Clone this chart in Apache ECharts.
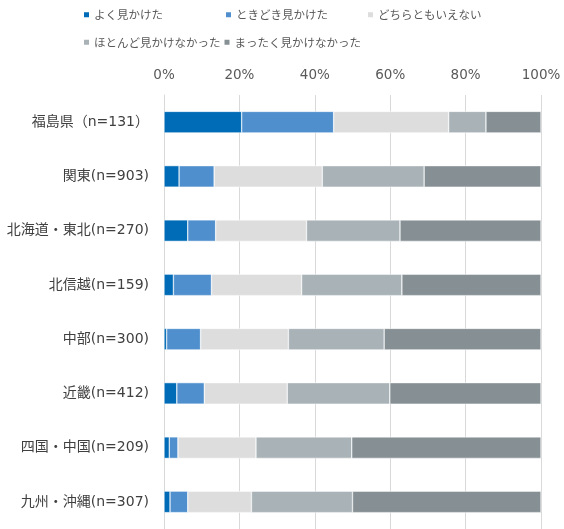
<!DOCTYPE html>
<html><head><meta charset="utf-8">
<script src="https://cdn.jsdelivr.net/npm/echarts@6/dist/echarts.min.js"></script>
<style>html,body{margin:0;padding:0;background:#fff}#c{width:564px;height:529px}</style>
</head><body><div id="c"></div>
<script>
var categories = ['福島県（n=131）','関東(n=903)','北海道・東北(n=270)','北信越(n=159)','中部(n=300)','近畿(n=412)','四国・中国(n=209)','九州・沖縄(n=307)'];
var seriesNames = ['よく見かけた','ときどき見かけた','どちらともいえない','ほとんど見かけなかった','まったく見かけなかった'];
var often     = [20.6, 4.0, 6.3, 2.5, 0.7, 3.4, 1.4, 1.6];
var sometimes = [24.4, 9.3, 7.4, 10.1, 9.0, 7.3, 2.3, 4.7];
var neither   = [30.5, 28.7, 24.1, 23.9, 23.3, 22.0, 20.7, 16.9];
var rarely    = [9.9, 27.0, 24.8, 26.6, 25.4, 27.2, 25.4, 26.8];
var never     = [14.6, 31.0, 37.4, 36.9, 41.6, 40.1, 50.2, 50.0];
var tickLabels = ['0%','20%','40%','60%','80%','100%'];

var colors = ['#006BB6','#4F8FCD','#DDDDDD','#A8B2B7','#858F94'];
var values = [often, sometimes, neither, rarely, never];
var font = '"DejaVu Sans","Noto Sans CJK JP",sans-serif';
var legendPos = [[82,9],[224,9],[366,9],[82,36.5],[222.5,36.5]];

var chart = echarts.init(document.getElementById('c'));
chart.setOption({
  animation: false,
  color: colors,
  legend: seriesNames.map(function(n,i){
    return {data:[{name:n, icon:'rect'}], left:legendPos[i][0], top:legendPos[i][1], itemWidth:7, itemHeight:7, itemGap:0,
      textStyle:{fontSize:11.5, color:'#595959', fontFamily:'"Noto Sans CJK JP",sans-serif', padding:[0,0,0,-1]}, padding:0};
  }),
  grid: {left:164, right:23, top:95, bottom:-5, containLabel:false},
  xAxis: {type:'value', position:'top', min:0, max:100, interval:20,
    axisLine:{show:false}, axisTick:{show:false},
    splitLine:{lineStyle:{color:'#D9D9D9', width:1}},
    axisLabel:{margin:13, fontSize:13.5, color:'#595959', fontFamily:font,
      formatter:function(v){return tickLabels[Math.round(v/20)];}}},
  yAxis: {type:'category', data:categories, inverse:true,
    axisLine:{show:true, lineStyle:{color:'#D9D9D9', width:1}}, axisTick:{show:false},
    axisLabel:{margin:15, fontSize:14, color:'#404040', fontFamily:font}},
  series: values.map(function(v,i){
    return {name:seriesNames[i], type:'bar', stack:'total', data:v, barWidth:21.5,
      itemStyle:{color:colors[i], borderColor:'#ffffff', borderWidth:0.5}};
  })
});
</script></body></html>
